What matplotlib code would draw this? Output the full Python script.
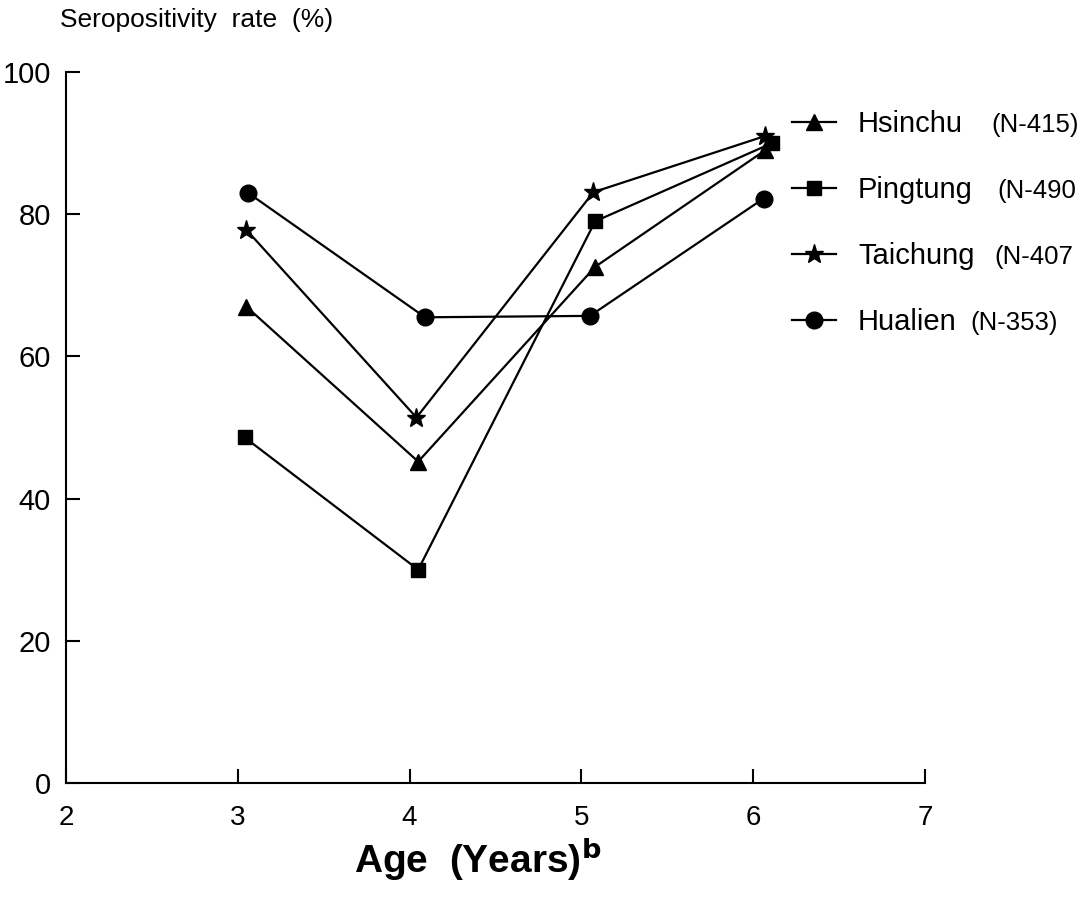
import matplotlib
matplotlib.use('Agg')
import matplotlib.pyplot as plt

plt.rcParams['font.family'] = ['Liberation Sans', 'DejaVu Sans']

# values (x positions drift slightly in the scan)
regions = ['Hsinchu', 'Pingtung', 'Taichung', 'Hualien']
counts = ['(N-415)', '(N-490', '(N-407', '(N-353)']
markers = ['^', 's', '*', 'o']
marker_sizes = [11, 10, 14, 12]

hsinchu_x = [3.05, 4.05, 5.08, 6.07]
hsinchu_y = [67.0, 45.2, 72.6, 89.0]
pingtung_x = [3.04, 4.05, 5.08, 6.11]
pingtung_y = [48.6, 30.0, 79.0, 90.0]
taichung_x = [3.05, 4.04, 5.07, 6.07]
taichung_y = [77.8, 51.4, 83.1, 91.0]
hualien_x = [3.06, 4.09, 5.05, 6.06]
hualien_y = [83.0, 65.5, 65.7, 82.2]

xs = [hsinchu_x, pingtung_x, taichung_x, hualien_x]
ys = [hsinchu_y, pingtung_y, taichung_y, hualien_y]

x_ticks = [2, 3, 4, 5, 6, 7]
y_ticks = [0, 20, 40, 60, 80, 100]

W, H = 1092, 908
fig = plt.figure(figsize=(W / 100, H / 100), dpi=100)
ax = fig.add_axes([66 / W, 1 - 783 / H, 859 / W, 711 / H])

for i in range(len(regions)):
    ax.plot(xs[i], ys[i], color='black', lw=1.6, marker=markers[i],
            markersize=marker_sizes[i], label=regions[i], clip_on=False)

ax.set_xlim(2, 7)
ax.set_ylim(0, 100)
ax.set_xticks(x_ticks)
ax.set_yticks(y_ticks)
ax.spines['top'].set_visible(False)
ax.spines['right'].set_visible(False)
ax.spines['left'].set_linewidth(1.5)
ax.spines['bottom'].set_linewidth(1.5)
ax.tick_params(axis='both', direction='in', length=10, width=1.5)
ax.tick_params(axis='y', pad=11, labelsize=21)
ax.tick_params(axis='x', pad=16, labelsize=20)

ax.set_xlabel('Age  (Years)$^{\\mathbf{b}}$', fontsize=28, fontweight='bold')
ax.xaxis.set_label_coords((478 - 66) / 859, -0.074)
fig.text(60 / W, 1 - 20 / H, 'Seropositivity  rate  (%)', fontsize=19,
         ha='left', va='center')

leg = ax.legend(loc='upper left', bbox_to_anchor=(792 / W, 1 - 110 / H),
                bbox_transform=fig.transFigure, frameon=False, fontsize=21,
                handlelength=1.5, handletextpad=0.76, labelspacing=1.3,
                borderpad=0, borderaxespad=0)

# the sample sizes sit after each name in a smaller font
fig.canvas.draw()
renderer = fig.canvas.get_renderer()
gaps = [28, 25, 20, 14]
descent = 0.212 * 21 * 100 / 72
for t, n, g in zip(leg.get_texts(), counts, gaps):
    bb = t.get_window_extent(renderer)
    fig.text((bb.x1 + g) / W, (bb.y0 + descent) / H, n, fontsize=18.5,
             ha='left', va='baseline')

fig.savefig('out.png', dpi=100)
